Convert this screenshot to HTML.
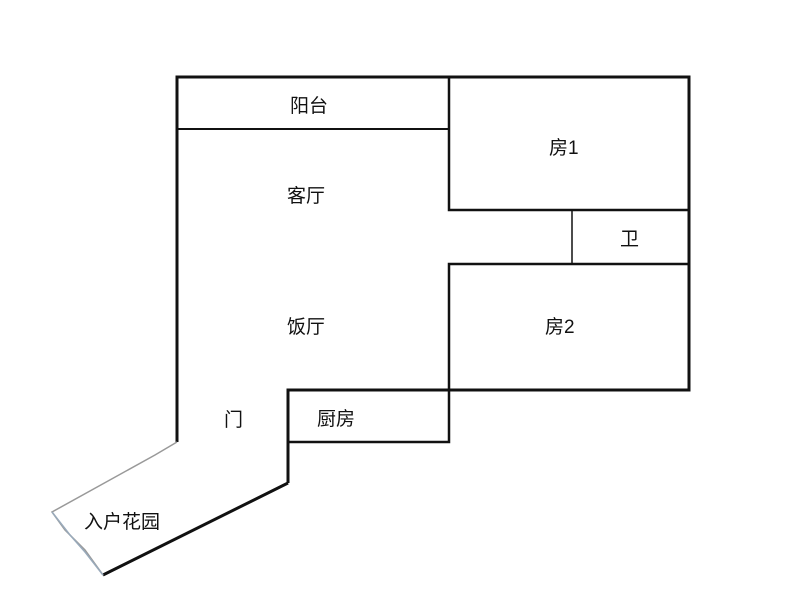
<!DOCTYPE html>
<html><head><meta charset="utf-8"><style>
body{margin:0;background:#fff}
svg text{font-family:"Liberation Sans","Noto Sans CJK SC",sans-serif;font-size:19px;fill:#111}
</style></head><body>
<svg width="800" height="600" viewBox="0 0 800 600" xmlns="http://www.w3.org/2000/svg">
<g stroke="#111" fill="none" stroke-width="3">
<polyline points="177,442 177,77 689,77 689,390 288,390 288,483"/>
<line x1="177" y1="129" x2="449" y2="129" stroke-width="2"/>
<polyline points="449,77 449,210 689,210" stroke-width="2.5"/>
<line x1="572" y1="210" x2="572" y2="264" stroke-width="1.5"/>
<polyline points="689,264 449,264 449,442 288,442" stroke-width="2.5"/>
<polyline points="288,483 103,575"/>
</g>
<polyline points="177,442 155,455 52,512 65,530 85,550 103,575" stroke="#999" stroke-width="1.5" fill="none"/>
<polyline points="52,512 70,535 85,552 103,575" stroke="#9ab" stroke-width="1.5" fill="none"/>
<text x="290" y="112">阳台</text>
<text x="549" y="154">房1</text>
<text x="287" y="202">客厅</text>
<text x="620" y="245">卫</text>
<text x="287" y="333">饭厅</text>
<text x="545" y="333">房2</text>
<text x="224" y="426">门</text>
<text x="317" y="425">厨房</text>
<text x="84" y="528">入户花园</text>
</svg>
</body></html>
